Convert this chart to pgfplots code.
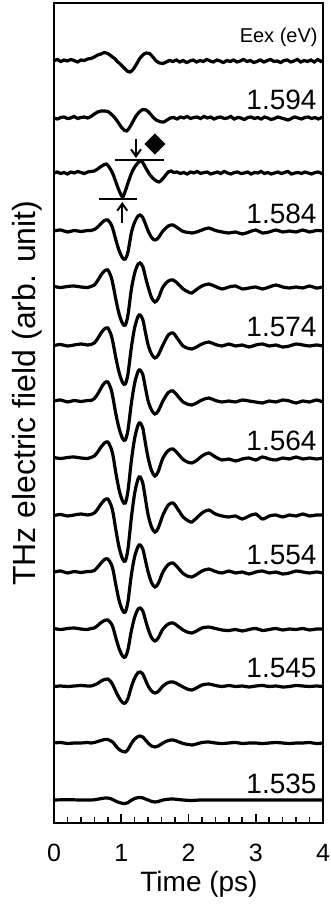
\documentclass[border=0pt]{standalone}
\usepackage{fontspec}
\setmainfont{Liberation Sans}
\usepackage{pgfplots}
\pgfplotsset{compat=1.18}
\usetikzlibrary{arrows.meta}
\pgfplotsset{off/.style={y filter/.expression={y+#1}},
  tr/.style={black, line width=1.6pt, smooth, tension=0.5, no markers}}
\begin{document}
\begin{tikzpicture}
\begin{axis}[
  scale only axis, width=134.5pt, height=410pt,
  xmin=0, xmax=4, ymin=-23, ymax=797,
  axis line style={line width=1pt},
  xtick={0,1,2,3,4}, minor x tick num=4,
  ytick=\empty,
  xtick pos=left,
  tick align=inside,
  major tick length=4.5pt, minor tick length=3pt,
  every tick/.style={black, line width=0.8pt},
  /pgf/number format/assume math mode=true,
  xticklabel style={anchor=base, inner sep=0pt, yshift=-19.35pt, font=\fontsize{12.5}{15}\selectfont},
  xlabel={Time (ps)},
  xlabel style={at={(axis description cs:0.539,-0.0838)}, anchor=base, inner sep=0pt, font=\fontsize{14}{16}\selectfont},
  ylabel={THz electric field (arb. unit)},
  ylabel style={at={(axis description cs:-0.0706,0.524)}, anchor=base, inner sep=0pt, font=\fontsize{16}{18}\selectfont},
]
% annotations
\addplot[black, line width=1pt] coordinates {(0.91,640) (1.64,640)};
\addplot[black, line width=1pt] coordinates {(0.67,600.7) (1.24,600.7)};
\addplot[black, line width=1pt, -{Straight Barb[length=3.5pt,width=5pt]}] coordinates {(1.219,661) (1.219,642)};
\addplot[black, line width=1pt, -{Straight Barb[length=3.5pt,width=5pt]}] coordinates {(1.015,577) (1.015,598)};
\addplot[only marks, mark=square*, mark size=3.5pt, mark options={rotate=45, fill=black, draw=black}] coordinates {(1.50,656)};

% trace 1
\addplot[tr, off=739] coordinates {
(0,0) (0.05,1.5) (0.1,-0.5) (0.15,1) (0.2,0) (0.25,1.5) (0.3,0.5) (0.35,-1) (0.4,1) (0.45,0.5) (0.5,2)
(0.55,2.5) (0.6,4) (0.65,6) (0.7,7) (0.75,8.5) (0.8,7.5) (0.85,5) (0.9,2.5) (0.95,-1) (1.0,-4) (1.05,-7.5) (1.1,-10.5) (1.13,-11) (1.17,-9) (1.22,-4) (1.27,2) (1.32,6) (1.37,8) (1.42,7.5) (1.47,4) (1.52,0) (1.57,-2) (1.62,-2.5) (1.67,-1) (1.72,0.5)
(1.77,-0.5) (1.82,1) (1.87,-1) (1.92,0.5) (1.97,-1.5) (2.02,0) (2.07,1) (2.12,-1) (2.17,0.5) (2.22,-0.5) (2.27,1.5) (2.32,0) (2.37,-1) (2.42,1) (2.47,0) (2.52,-1.5) (2.57,0.5) (2.62,-0.5) (2.67,1) (2.72,-1) (2.77,0) (2.82,1.5) (2.87,-0.5) (2.92,0.5) (2.97,-1.5) (3.02,-0.5) (3.07,1) (3.12,-1) (3.17,0.5) (3.22,1.5) (3.27,-0.5) (3.32,0) (3.37,-1.5) (3.42,0.5) (3.47,1) (3.52,-1) (3.57,0) (3.62,1.5) (3.67,-1) (3.72,0.5) (3.77,-0.5) (3.82,1) (3.87,-1) (3.92,1.5) (3.97,-0.5) (4.0,0.5)
};
% trace 2
\addplot[tr, off=682] coordinates {
(0,0) (0.05,-1) (0.1,0.5) (0.15,1) (0.2,-0.5) (0.25,0) (0.3,1.5) (0.35,-0.5) (0.4,0.5) (0.45,1) (0.5,0)
(0.55,1.5) (0.6,4) (0.65,6) (0.7,7) (0.75,7) (0.8,6.5) (0.85,4) (0.9,0.5) (0.95,-4) (1.0,-9) (1.05,-12.5) (1.08,-13) (1.12,-10) (1.17,-4) (1.22,2) (1.27,6) (1.32,8.5) (1.37,8) (1.42,5) (1.47,1) (1.52,-2) (1.57,-3.5) (1.63,-4) (1.68,-2) (1.73,0)
(1.78,0.5) (1.83,-1) (1.88,1) (1.93,0) (1.98,1.5) (2.03,-0.5) (2.08,0.5) (2.13,1) (2.18,-0.5) (2.23,1.5) (2.28,0) (2.33,1) (2.38,-1) (2.43,0.5) (2.48,1) (2.53,-0.5) (2.58,0) (2.63,1.5) (2.68,-1) (2.73,0.5) (2.78,0) (2.83,-1.5) (2.88,0.5) (2.93,1) (2.98,-0.5) (3.03,0.5) (3.08,-1) (3.13,1) (3.18,0) (3.23,-1.5) (3.28,-0.5) (3.33,1) (3.38,0) (3.43,-1) (3.48,-2) (3.53,-0.5) (3.58,1) (3.63,0) (3.68,-1) (3.73,0.5) (3.78,1) (3.83,-0.5) (3.88,0.5) (3.93,-1) (3.98,0.5) (4.0,0)
};
% trace 3
\addplot[tr, off=627] coordinates {
(0,0) (0.05,1) (0.1,-0.5) (0.15,0.5) (0.2,-1) (0.25,1) (0.3,0) (0.35,1.5) (0.4,0.5) (0.45,-0.5) (0.5,1)
(0.55,1.5) (0.6,2) (0.65,4) (0.7,6.5) (0.75,8.5) (0.78,9) (0.82,6) (0.87,0) (0.92,-9) (0.97,-18) (1.02,-24) (1.06,-18) (1.11,-8) (1.16,1) (1.21,7) (1.26,11) (1.30,12) (1.34,8) (1.39,2) (1.44,-3) (1.50,-7) (1.56,-9) (1.60,-7) (1.65,-3) (1.70,1) (1.74,2) (1.78,0.5)
(1.83,1) (1.88,-0.5) (1.93,0.5) (1.98,-1) (2.03,1) (2.08,0) (2.13,1.5) (2.18,-0.5) (2.23,0.5) (2.28,1) (2.33,-1) (2.38,0) (2.43,1) (2.48,-0.5) (2.53,1.5) (2.58,0) (2.63,-1) (2.68,0.5) (2.73,1) (2.78,-0.5) (2.83,0) (2.88,1) (2.93,-1) (2.98,0.5) (3.03,0) (3.08,1.5) (3.13,-0.5) (3.18,0.5) (3.23,-1) (3.28,0) (3.33,1) (3.38,-0.5) (3.43,0.5) (3.48,1.5) (3.53,-1) (3.58,0) (3.63,0.5) (3.68,-0.5) (3.73,1) (3.78,0) (3.83,-1) (3.88,0.5) (3.93,1) (3.98,-0.5) (4.0,0)
};
% trace 4
\addplot[tr, off=569] coordinates {
(0,0) (0.1,1) (0.2,-1) (0.3,0.5) (0.4,-0.5) (0.5,0.5) (0.55,0.5) (0.60,1.5) (0.65,4) (0.70,7.5) (0.75,10.5) (0.80,11) (0.85,6.5) (0.88,1) (0.92,-9) (0.97,-20) (1.02,-27) (1.06,-28) (1.10,-21) (1.15,-2) (1.20,9) (1.25,15) (1.28,16) (1.32,13.5) (1.36,7) (1.40,0) (1.45,-6.5) (1.50,-9) (1.55,-7) (1.62,0) (1.70,5) (1.77,6) (1.84,3) (1.92,-0.5) (2.00,-1.5) (2.05,-2) (2.12,-1) (2.20,1) (2.30,3) (2.40,0.5) (2.5,-1) (2.6,-2) (2.7,-1) (2.8,-3) (2.9,-1) (3.0,1) (3.1,-2) (3.2,-1) (3.3,1) (3.4,-1) (3.5,0) (3.6,-1) (3.7,1) (3.8,-1) (3.9,0.5) (4.0,0)
};
% trace 5
\addplot[tr, off=513] coordinates {
(0,0.5) (0.1,-0.5) (0.2,0.5) (0.3,1) (0.4,0) (0.5,-0.5) (0.55,0.5) (0.60,2) (0.65,6.5) (0.70,12) (0.75,16) (0.80,17) (0.85,10) (0.88,1.5) (0.92,-12.5) (0.97,-27.5) (1.02,-36.5) (1.06,-38) (1.10,-28) (1.15,-2.5) (1.20,14) (1.25,23) (1.28,24) (1.32,20.5) (1.36,10) (1.40,0) (1.45,-10.5) (1.50,-15) (1.55,-11.5) (1.62,0) (1.70,6) (1.77,7) (1.84,3.5) (1.92,-2) (2.00,-5) (2.05,-6) (2.12,-2.5) (2.20,1) (2.30,3) (2.40,0.5) (2.5,-2) (2.6,0) (2.7,1) (2.8,-2) (2.9,-1) (3.0,0) (3.1,-2) (3.2,0) (3.3,2) (3.4,0) (3.5,-1) (3.6,0) (3.7,-1) (3.8,1) (3.9,-1) (4.0,0)
};
% trace 6
\addplot[tr, off=455] coordinates {
(0,-0.5) (0.1,0.5) (0.2,-1) (0.3,0) (0.4,1) (0.5,0) (0.55,0.5) (0.60,2) (0.65,6.5) (0.70,12) (0.75,16) (0.80,17) (0.85,10) (0.88,1.5) (0.92,-13) (0.97,-28) (1.02,-37.5) (1.06,-39) (1.10,-29) (1.15,-2.5) (1.20,17.5) (1.25,28.5) (1.28,30) (1.32,25.5) (1.36,12.5) (1.40,0) (1.45,-9) (1.50,-13) (1.55,-10) (1.62,0) (1.70,10) (1.77,12) (1.84,6) (1.92,-1) (2.00,-3.5) (2.05,-4) (2.12,-2) (2.20,1) (2.30,3) (2.40,0.5) (2.5,-1) (2.6,1) (2.7,-1) (2.8,0) (2.9,-2) (3.0,0) (3.1,1) (3.2,-1) (3.3,0) (3.4,-2) (3.5,-1) (3.6,1) (3.7,0) (3.8,-1) (3.9,0) (4.0,-1)
};
% trace 7
\addplot[tr, off=399] coordinates {
(0,0) (0.1,1) (0.2,-1) (0.3,0.5) (0.4,-0.5) (0.5,0.5) (0.55,0.5) (0.60,2.5) (0.65,7) (0.70,13) (0.75,18) (0.80,19) (0.85,11.5) (0.88,2) (0.92,-13) (0.97,-28) (1.02,-37.5) (1.06,-39) (1.10,-29) (1.15,-2.5) (1.20,18) (1.25,29.5) (1.28,31) (1.32,26.5) (1.36,13) (1.40,0) (1.45,-9) (1.50,-13) (1.55,-10) (1.62,0) (1.70,8.5) (1.77,10) (1.84,5) (1.92,-1) (2.00,-3.5) (2.05,-4) (2.12,-2) (2.20,1) (2.30,3) (2.40,0.5) (2.5,-1) (2.6,0) (2.7,-1) (2.8,1) (2.9,0) (3.0,-1) (3.1,-2) (3.2,0) (3.3,-1) (3.4,1) (3.5,0) (3.6,-2) (3.7,0) (3.8,-1) (3.9,1) (4.0,-1)
};
% trace 8
\addplot[tr, off=342] coordinates {
(0,0.5) (0.1,-0.5) (0.2,0.5) (0.3,1) (0.4,0) (0.5,-0.5) (0.55,0.5) (0.60,2) (0.65,6) (0.70,11) (0.75,15) (0.80,16) (0.85,9.5) (0.88,1.5) (0.92,-15) (0.97,-32.5) (1.02,-43) (1.06,-45) (1.10,-33) (1.15,-3) (1.20,20) (1.25,33) (1.28,35) (1.32,30) (1.36,14.5) (1.40,0) (1.45,-12.5) (1.50,-18) (1.55,-13.5) (1.62,0) (1.70,7.5) (1.77,9) (1.84,4.5) (1.92,-1.5) (2.00,-4.5) (2.05,-5) (2.12,-2.5) (2.20,2) (2.30,5) (2.40,1) (2.5,-2) (2.6,-1) (2.7,-3) (2.8,-1) (2.9,0) (3.0,-2) (3.1,1) (3.2,-1) (3.3,-2) (3.4,0) (3.5,-1) (3.6,1) (3.7,-1) (3.8,0) (3.9,-1) (4.0,0)
};
% trace 9
\addplot[tr, off=285] coordinates {
(0,-0.5) (0.1,0.5) (0.2,-1) (0.3,0) (0.4,1) (0.5,0) (0.55,0.5) (0.60,2) (0.65,6) (0.70,11) (0.75,15) (0.80,16) (0.85,9.5) (0.88,1.5) (0.92,-15) (0.97,-33) (1.02,-44) (1.06,-46) (1.10,-34) (1.15,-3) (1.20,22) (1.25,36) (1.28,38) (1.32,32) (1.36,16) (1.40,0) (1.45,-12) (1.50,-17) (1.55,-13) (1.62,0) (1.70,10) (1.77,12) (1.84,6) (1.92,-2) (2.00,-6) (2.05,-7) (2.12,-3) (2.20,2) (2.30,5) (2.40,1) (2.5,-1) (2.6,-2) (2.7,-1) (2.8,-4) (2.9,-1) (3.0,1) (3.1,-4) (3.2,-1) (3.3,0) (3.4,-2) (3.5,0) (3.6,-1) (3.7,1) (3.8,-1) (3.9,0) (4.0,0)
};
% trace 10
\addplot[tr, off=228] coordinates {
(0,0) (0.1,1) (0.2,-1) (0.3,0.5) (0.4,-0.5) (0.5,0.5) (0.55,0.5) (0.60,1.5) (0.65,5) (0.70,9) (0.75,12.5) (0.80,13) (0.85,8) (0.88,1.5) (0.92,-13) (0.97,-29) (1.02,-38.5) (1.06,-40) (1.10,-29.5) (1.15,-3) (1.20,15.5) (1.25,25.5) (1.28,27) (1.32,23) (1.36,11.5) (1.40,0) (1.45,-10.5) (1.50,-15) (1.55,-11.5) (1.62,0) (1.70,7.5) (1.77,9) (1.84,4.5) (1.92,-1.5) (2.00,-4.5) (2.05,-5) (2.12,-2.5) (2.20,1) (2.30,3) (2.40,0.5) (2.5,-1) (2.6,1) (2.7,-1) (2.8,0) (2.9,-2) (3.0,0) (3.1,1) (3.2,-1) (3.3,0) (3.4,-2) (3.5,-1) (3.6,1) (3.7,0) (3.8,-1) (3.9,0) (4.0,-1)
};
% trace 11
\addplot[tr, off=171] coordinates {
(0,0.5) (0.1,-0.5) (0.2,0.5) (0.3,1) (0.4,0) (0.5,-0.5) (0.55,0.5) (0.60,1) (0.65,3.5) (0.70,6.5) (0.75,8.5) (0.80,9) (0.85,5.5) (0.88,1) (0.92,-9) (0.97,-20) (1.02,-27) (1.06,-28) (1.10,-20.5) (1.15,-2) (1.20,12) (1.25,20) (1.28,21) (1.32,18) (1.36,9) (1.40,0) (1.45,-8.5) (1.50,-12) (1.55,-9) (1.62,0) (1.70,5) (1.77,6) (1.84,3) (1.92,-1) (2.00,-3.5) (2.05,-4) (2.12,-2) (2.20,1) (2.30,2) (2.40,0.5) (2.5,-1) (2.6,-1.5) (2.7,-0.5) (2.8,-2) (2.9,-0.5) (3.0,0.5) (3.1,-1.5) (3.2,-0.5) (3.3,0.5) (3.4,-1) (3.5,0) (3.6,-0.5) (3.7,0.5) (3.8,-1) (3.9,0) (4.0,0)
};
% trace 12
\addplot[tr, off=114] coordinates {
(0,-0.5) (0.1,0) (0.2,-0.5) (0.3,0) (0.4,0.5) (0.5,0) (0.55,0) (0.60,1) (0.65,2.5) (0.70,5) (0.75,6.5) (0.80,7) (0.85,4) (0.88,0.5) (0.92,-5.5) (0.97,-12) (1.02,-16.5) (1.06,-17) (1.10,-12.5) (1.15,-1) (1.20,8) (1.25,13.5) (1.28,14) (1.32,12) (1.36,6) (1.40,0) (1.45,-5) (1.50,-7) (1.55,-5.5) (1.62,0) (1.70,3.5) (1.77,4) (1.84,2) (1.92,-1) (2.00,-3.5) (2.05,-4) (2.12,-2) (2.20,1) (2.30,2) (2.40,0.5) (2.5,-0.5) (2.6,0.5) (2.7,-0.5) (2.8,0) (2.9,-1) (3.0,0) (3.1,0.5) (3.2,-0.5) (3.3,0) (3.4,-1) (3.5,-0.5) (3.6,0.5) (3.7,0) (3.8,-0.5) (3.9,0) (4.0,-0.5)
};
% trace 13
\addplot[tr, off=57] coordinates {
(0,0) (0.1,0.5) (0.2,-0.5) (0.3,0) (0.4,0) (0.5,0.5) (0.55,0) (0.60,0.5) (0.65,1.5) (0.70,2.5) (0.75,3.5) (0.80,3.5) (0.85,2) (0.88,0.5) (0.92,-3) (0.97,-6.5) (1.02,-8.5) (1.06,-9) (1.10,-6.5) (1.15,-0.5) (1.20,4) (1.25,6.5) (1.28,7) (1.32,6) (1.36,3) (1.40,0) (1.45,-3) (1.50,-4) (1.55,-3) (1.62,0) (1.70,2.5) (1.77,3) (1.84,1.5) (1.92,-0.5) (2.00,-1.5) (2.05,-2) (2.12,-1) (2.20,0.5) (2.30,1) (2.40,0) (2.5,-0.5) (2.6,0) (2.7,0.5) (2.8,-0.5) (2.9,0) (3.0,0) (3.1,-0.5) (3.2,0) (3.3,0.5) (3.4,0) (3.5,-0.5) (3.6,0) (3.7,0) (3.8,0.5) (3.9,-0.5) (4.0,0)
};
% trace 14
\addplot[tr, off=0] coordinates {
(0,0) (0.2,0.3) (0.4,0) (0.55,0) (0.60,0.2) (0.65,0.8) (0.70,1.4) (0.75,1.9) (0.80,2) (0.85,1.2) (0.88,0.2) (0.92,-1.2) (0.97,-2.5) (1.02,-3.4) (1.06,-3.5) (1.10,-2.6) (1.15,-0.2) (1.20,1.5) (1.25,2.4) (1.28,2.5) (1.32,2.1) (1.36,1) (1.40,0) (1.45,-1.4) (1.50,-2) (1.55,-1.5) (1.62,0) (1.70,0.8) (1.77,1) (1.84,0.5) (1.92,0) (2.00,-0.4) (2.05,-0.5) (2.12,-0.2) (2.20,0) (2.5,0) (3.0,0) (3.5,0) (4.0,0)
};

% labels
\node[anchor=base east, inner sep=0pt, font=\fontsize{10}{12}\selectfont] at (axis cs:3.925,757) {Eex (eV)};
\node[anchor=base east, inner sep=0pt, font=\fontsize{14}{16}\selectfont] at (axis cs:3.91,690) {1.594};
\node[anchor=base east, inner sep=0pt, font=\fontsize{14}{16}\selectfont] at (axis cs:3.91,576) {1.584};
\node[anchor=base east, inner sep=0pt, font=\fontsize{14}{16}\selectfont] at (axis cs:3.91,463) {1.574};
\node[anchor=base east, inner sep=0pt, font=\fontsize{14}{16}\selectfont] at (axis cs:3.91,349) {1.564};
\node[anchor=base east, inner sep=0pt, font=\fontsize{14}{16}\selectfont] at (axis cs:3.91,235) {1.554};
\node[anchor=base east, inner sep=0pt, font=\fontsize{14}{16}\selectfont] at (axis cs:3.91,122) {1.545};
\node[anchor=base east, inner sep=0pt, font=\fontsize{14}{16}\selectfont] at (axis cs:3.91,7) {1.535};
\end{axis}
\path ([shift={(-27pt,-40.5pt)}]current axis.south west) rectangle ([shift={(4pt,1.5pt)}]current axis.north east);
\end{tikzpicture}
\end{document}
